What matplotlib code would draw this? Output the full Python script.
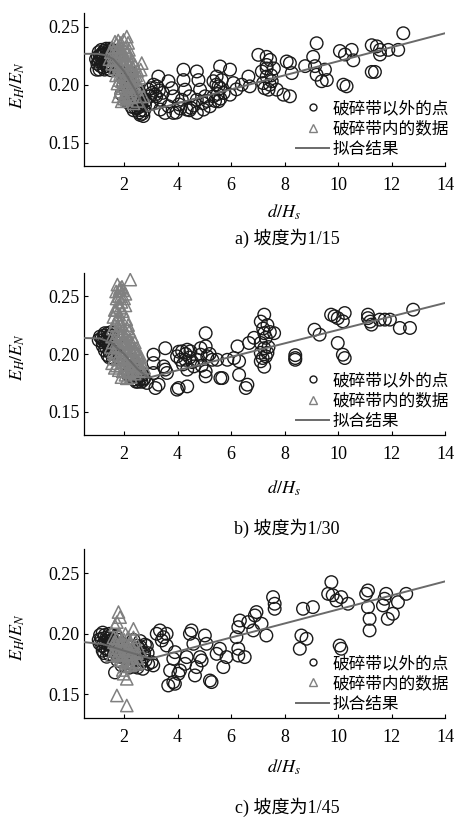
import matplotlib
matplotlib.use("Agg")
import matplotlib.pyplot as plt
from matplotlib.lines import Line2D

plt.rcParams["font.family"] = ["Liberation Serif", "Noto Sans CJK SC"]
plt.rcParams["mathtext.fontset"] = "stix"

# Panel a) slope 1/15: points outside the breaking zone (circles)
a_out_x = [12.44, 12.25, 11.88, 11.57, 11.45, 11.26, 11.57, 11.26, 11.38, 10.51, 10.57, 10.07, 10.26,
           10.20, 10.32, 9.20, 9.07, 9.14, 9.20, 9.51, 9.58, 9.39, 8.77, 8.20, 8.27, 8.08, 8.20, 7.96,
           7.71, 7.46, 7.33, 7.02, 7.33, 7.15, 7.33, 7.20, 7.40, 7.52, 7.33, 6.70, 6.65, 5.96, 6.09, 5.96,
           5.59, 5.46, 5.65, 5.34, 5.53, 5.72, 5.34, 5.53, 5.21, 4.84, 4.72, 4.78, 4.72, 4.72, 4.97, 5.03,
           4.22, 4.22, 4.28, 4.16, 4.34, 3.84, 3.66, 3.78, 3.84, 3.66, 3.28, 3.22, 3.16, 3.35, 3.03, 3.35,
           3.53, 2.60, 2.72, 2.60, 2.47, 2.91, 2.97,
           3.00, 3.10, 3.30, 3.45, 3.20, 3.05, 5.45, 5.60, 5.50, 5.60, 5.40, 4.95, 5.10, 4.60, 4.45, 4.50,
           4.05, 3.95, 4.10, 4.45, 7.60, 7.45, 7.25, 7.50, 6.20, 6.40,
           0.98, 1.02, 1.10, 1.15, 1.23, 1.28, 1.35, 1.40, 1.48, 1.45, 1.55, 1.60, 1.30, 1.20, 1.65, 1.70,
           1.58, 1.38, 1.12, 1.50,
           1.00, 1.05, 1.08, 1.15, 1.18, 1.22, 1.25, 1.32, 1.33, 1.42, 1.45, 1.50, 1.52, 1.62, 1.68, 1.72,
           1.40, 1.27, 1.18, 1.36, 1.56, 1.10, 0.95, 1.05,
           2.00, 2.10, 2.20, 2.30, 2.15, 2.40, 2.50, 2.35, 2.55, 2.20, 2.05, 2.65, 2.75, 1.90, 2.45, 2.30,
           2.60, 2.80, 1.95, 2.25,
           2.05, 2.12, 2.25, 2.38, 2.48, 2.58, 2.68, 2.42, 2.32, 2.18, 2.28, 2.52, 2.62, 2.78, 2.70, 1.98,
           2.08, 2.15]
a_out_y = [0.2443, 0.2300, 0.2300, 0.2300, 0.2330, 0.2340, 0.2260, 0.2110, 0.2110, 0.2300, 0.2210, 0.2290,
           0.2260, 0.2000, 0.1986, 0.2357, 0.2240, 0.2160, 0.2086, 0.2130, 0.2040, 0.2030, 0.2160, 0.2186,
           0.2100, 0.2200, 0.1900, 0.1914, 0.1957, 0.2214, 0.2240, 0.2257, 0.2170, 0.2114, 0.2070, 0.2014,
           0.1957, 0.2030, 0.2140, 0.1986, 0.2070, 0.2130, 0.2014, 0.1914, 0.2157, 0.2070, 0.2040, 0.2030,
           0.1986, 0.1929, 0.1900, 0.1857, 0.1814, 0.1957, 0.2114, 0.2040, 0.1870, 0.1757, 0.1786, 0.1900,
           0.2129, 0.2040, 0.1957, 0.1870, 0.1786, 0.1757, 0.1814, 0.1970, 0.1900, 0.2030, 0.2070, 0.1986,
           0.1914, 0.1870, 0.1843, 0.1786, 0.1757, 0.1740, 0.1730, 0.1814, 0.1870, 0.1957, 0.1900,
           0.1970, 0.2000, 0.1950, 0.1930, 0.1900, 0.1930, 0.2000, 0.1970, 0.1920, 0.1880, 0.1860, 0.1840,
           0.1860, 0.1820, 0.1900, 0.1800, 0.1830, 0.1760, 0.1795, 0.1780, 0.2140, 0.2000, 0.1970, 0.2080,
           0.1960, 0.2000,
           0.2129, 0.2240, 0.2214, 0.2257, 0.2257, 0.2220, 0.2270, 0.2230, 0.2300, 0.2190, 0.2260, 0.2210,
           0.2180, 0.2190, 0.2290, 0.2240, 0.2160, 0.2140, 0.2160, 0.2125,
           0.2180, 0.2280, 0.2130, 0.2300, 0.2220, 0.2150, 0.2290, 0.2240, 0.2310, 0.2270, 0.2310, 0.2220,
           0.2170, 0.2260, 0.2190, 0.2130, 0.2190, 0.2130, 0.2270, 0.2160, 0.2300, 0.2250, 0.2220, 0.2200,
           0.2050, 0.2000, 0.1960, 0.1920, 0.1900, 0.1850, 0.1800, 0.1780, 0.1760, 0.1840, 0.1950, 0.1830,
           0.1780, 0.1920, 0.1970, 0.2050, 0.1925, 0.1860, 0.2100, 0.2100,
           0.2030, 0.1850, 0.2000, 0.1900, 0.1930, 0.1860, 0.1750, 0.1800, 0.1860, 0.1940, 0.1810, 0.1880,
           0.1780, 0.1820, 0.1880, 0.2000, 0.2080, 0.2030]

# Panel a) points inside the breaking zone (triangles)
a_in_x = [2.10, 1.98, 2.15, 1.66, 1.80, 1.75, 1.90, 2.05, 1.60, 1.70, 1.85, 1.95, 2.10, 2.20, 2.30, 2.66,
          2.40, 1.55, 1.65, 1.80, 1.95, 2.05, 2.15, 2.25, 2.35, 2.50, 1.70, 1.85, 2.00, 2.15, 2.30, 2.45,
          2.55, 1.75, 1.95, 2.10, 2.25, 2.40, 2.60, 2.72, 1.91, 2.10, 2.00, 2.20, 1.85, 1.50, 1.45, 2.35,
          2.50,
          1.55, 1.62, 1.72, 1.78, 1.88, 1.93, 2.00, 2.08, 2.18, 2.25, 2.32, 2.45, 1.58, 1.68, 1.78, 1.90,
          2.02, 2.12, 2.20, 1.82, 1.92, 2.05, 2.18, 2.35, 2.48, 1.88, 2.00, 2.30, 2.12, 1.78, 2.57, 2.62,
          2.28]
a_in_y = [0.2414, 0.2386, 0.2360, 0.2370, 0.2330, 0.2290, 0.2310, 0.2320, 0.2250, 0.2220, 0.2260, 0.2240,
          0.2270, 0.2250, 0.2210, 0.2186, 0.2170, 0.2180, 0.2140, 0.2160, 0.2170, 0.2140, 0.2190, 0.2130,
          0.2090, 0.2120, 0.2080, 0.2090, 0.2070, 0.2050, 0.2010, 0.2040, 0.1990, 0.2010, 0.1990, 0.1960,
          0.1940, 0.1960, 0.1900, 0.1900, 0.1857, 0.1870, 0.1910, 0.1890, 0.1940, 0.2280, 0.2220, 0.1840,
          0.1860,
          0.2320, 0.2290, 0.2350, 0.2380, 0.2360, 0.2280, 0.2260, 0.2220, 0.2300, 0.2180, 0.2150, 0.2080,
          0.2210, 0.2180, 0.2120, 0.2130, 0.2190, 0.2110, 0.2070, 0.2040, 0.2030, 0.2010, 0.1990, 0.2050,
          0.1960, 0.1970, 0.1880, 0.1900, 0.1920, 0.1900, 0.2060, 0.2130, 0.1980]

# Panel a) fitted curve
a_fit_x = [0.5, 1.0, 1.3, 1.6, 2.0, 2.4, 2.85, 14.0]
a_fit_y = [0.2266, 0.2266, 0.2255, 0.2220, 0.2115, 0.1960, 0.1770, 0.2443]

# Panel b) slope 1/30
b_out_x = [12.81, 12.69, 12.31, 11.94, 11.75, 11.56, 11.12, 11.25, 11.12, 11.20, 10.25, 10.18, 9.87, 9.74,
           9.99, 9.99, 10.18, 10.25, 9.12, 9.31, 8.40, 8.40, 8.40, 7.24, 7.11, 7.36, 7.61, 7.24, 7.30, 7.11,
           7.24, 7.11, 7.36, 7.18, 7.30, 7.11, 7.24, 6.86, 6.67, 6.61, 6.55, 6.30, 6.24, 6.11, 6.30, 5.86,
           5.67, 5.60, 5.48, 5.05, 5.05, 4.86, 4.86, 5.11, 5.05, 5.05, 5.30, 4.73, 4.48, 4.36, 4.17, 4.11,
           4.29, 4.36, 4.61, 3.98, 4.04, 4.36, 3.98, 3.54, 3.54, 3.60, 3.48, 3.10, 3.10, 3.10, 3.29, 3.17,
           2.85, 2.73,
           4.30, 4.45, 4.20, 4.55, 4.90, 5.20, 4.05, 7.40, 7.20, 7.45,
           1.05, 1.16, 1.25, 1.35, 1.47, 1.60, 1.50, 1.40, 1.30, 1.20, 1.55, 1.65, 1.45, 1.70, 1.80,
           1.10, 1.22, 1.28, 1.32, 1.38, 1.42, 1.52, 1.55, 1.62, 1.68, 1.45, 1.38, 1.58, 1.75, 1.28, 1.48,
           1.20,
           2.35, 2.40, 2.50, 2.60, 2.45, 2.30, 2.20, 2.70, 2.55, 2.10,
           2.15, 2.25, 2.38, 2.48, 2.58, 2.65, 2.75, 2.32, 2.42, 2.52, 2.28, 2.62]
b_out_y = [0.2383, 0.2225, 0.2225, 0.2297, 0.2297, 0.2297, 0.2340, 0.2254, 0.2310, 0.2280, 0.2354, 0.2282,
           0.2326, 0.2340, 0.2310, 0.2095, 0.1994, 0.1965, 0.2210, 0.2167, 0.1990, 0.1965, 0.1950, 0.2340,
           0.2280, 0.2250, 0.2180, 0.2180, 0.2140, 0.2095, 0.2050, 0.2010, 0.2010, 0.1965, 0.1980, 0.1937,
           0.1890, 0.2140, 0.2095, 0.1735, 0.1706, 0.1820, 0.2066, 0.1965, 0.1937, 0.1950, 0.1792, 0.1792,
           0.1950, 0.2180, 0.2066, 0.2050, 0.1994, 0.1980, 0.1850, 0.1807, 0.1950, 0.1950, 0.2023, 0.2037,
           0.2023, 0.1950, 0.1950, 0.1865, 0.1893, 0.1980, 0.1706, 0.1720, 0.1692, 0.2050, 0.1865, 0.1836,
           0.1893, 0.1994, 0.1922, 0.1836, 0.1735, 0.1706, 0.1750, 0.1778,
           0.2000, 0.1970, 0.1910, 0.1930, 0.1900, 0.2000, 0.2020, 0.2060, 0.2220, 0.2190,
           0.2120, 0.2138, 0.2160, 0.2095, 0.2052, 0.2182, 0.2140, 0.2180, 0.2110, 0.2070, 0.2000, 0.2050,
           0.1970, 0.2100, 0.2000,
           0.2150, 0.2120, 0.2180, 0.2060, 0.2140, 0.2100, 0.2190, 0.2080, 0.2120, 0.2010, 0.2020, 0.1990,
           0.1960, 0.2050, 0.2030, 0.2160, 0.2100,
           0.1830, 0.1880, 0.1800, 0.1780, 0.1760, 0.1930, 0.1850, 0.1820, 0.1860, 0.1900,
           0.1820, 0.1880, 0.1780, 0.1840, 0.1810, 0.1760, 0.1790, 0.1800, 0.1910, 0.1760, 0.1950, 0.1840]

b_in_x = [2.23, 1.75, 1.85, 1.70, 1.95, 2.05, 1.80, 2.00, 1.90, 2.05, 1.70, 1.85, 1.95, 1.60, 1.75, 1.85,
          1.65, 2.15, 2.20, 1.95, 2.10, 2.30, 1.80, 1.55, 2.40, 2.00, 2.25, 1.70, 1.85, 2.10, 2.45, 2.55,
          2.35, 1.60, 1.75, 1.95, 2.15, 2.30, 2.50, 2.65, 2.75, 1.65, 1.80, 2.00, 2.20, 2.40, 2.60, 1.90,
          2.10, 1.55, 1.50,
          1.72, 1.82, 1.88, 1.92, 1.78, 1.65, 1.82, 1.90, 2.08, 2.12, 2.02, 2.18, 2.28, 2.38, 2.48, 2.58,
          2.68, 1.72, 1.82, 1.90, 2.02, 2.12, 2.22, 2.32, 2.45, 1.62, 1.58, 1.68, 1.92, 2.10,
          1.58, 1.68, 1.78, 1.88, 1.98, 2.08, 2.18, 2.28, 2.38, 2.48, 1.65, 1.75, 1.85, 1.95, 2.05, 2.15,
          2.25, 2.35, 2.55, 2.62]
b_in_y = [0.2643, 0.2600, 0.2570, 0.2540, 0.2550, 0.2520, 0.2500, 0.2480, 0.2450, 0.2420, 0.2380, 0.2400,
          0.2370, 0.2320, 0.2300, 0.2280, 0.2250, 0.2250, 0.2200, 0.2200, 0.2170, 0.2150, 0.2180, 0.2150,
          0.2100, 0.2120, 0.2080, 0.2100, 0.2060, 0.2040, 0.2050, 0.1990, 0.2000, 0.2020, 0.1960, 0.1980,
          0.1960, 0.1920, 0.1900, 0.1920, 0.1880, 0.1880, 0.1860, 0.1880, 0.1840, 0.1830, 0.1850, 0.1800,
          0.1790, 0.1920, 0.2060,
          0.2480, 0.2550, 0.2500, 0.2580, 0.2420, 0.2380, 0.2340, 0.2260, 0.2300, 0.2220, 0.2150, 0.2110,
          0.2030, 0.1960, 0.1940, 0.1880, 0.1860, 0.1900, 0.1950, 0.2030, 0.1930, 0.1860, 0.1970, 0.1860,
          0.1850, 0.1960, 0.2100, 0.2160, 0.2100, 0.2000,
          0.2220, 0.2280, 0.2220, 0.2150, 0.2060, 0.2100, 0.2030, 0.2100, 0.2040, 0.2000, 0.2000, 0.2070,
          0.1900, 0.1850, 0.1820, 0.1910, 0.1800, 0.1890, 0.1930, 0.1980]

b_fit_x = [0.5, 1.1, 1.5, 2.0, 2.5, 2.9, 14.0]
b_fit_y = [0.2138, 0.2135, 0.2100, 0.2000, 0.1870, 0.1795, 0.2441]

# Panel c) slope 1/45
c_out_x = [12.55, 12.24, 12.05, 11.80, 11.74, 11.68, 11.86, 11.12, 11.05, 11.12, 11.18, 11.18, 10.37, 10.12,
           9.94, 9.75, 9.63, 9.80, 10.06, 10.12, 9.06, 8.69, 8.63, 8.82, 8.57, 7.57, 7.63, 7.63, 7.32, 7.14,
           6.95, 6.89, 6.83, 6.64, 6.33, 6.27, 6.20, 6.27, 6.51, 6.27, 5.83, 5.71, 5.58, 5.46, 5.21, 5.27,
           5.02, 5.08, 4.84, 4.90, 4.71, 4.65, 4.52, 4.46, 4.59, 4.34, 4.28, 4.09, 3.84, 3.90, 3.65, 3.72,
           3.84, 3.90, 3.59, 3.47, 3.34, 3.22, 3.59, 3.41, 4.03, 3.09, 3.03,
           1.05, 1.10, 1.20, 1.25, 1.30, 1.35, 1.45, 1.40, 1.55, 1.50, 1.65, 1.70, 1.60, 1.20, 1.75, 1.80,
           1.90, 2.00, 2.10, 2.20, 2.30, 2.40, 2.50, 2.55, 2.65, 2.75, 2.85, 2.90, 2.70, 2.20, 1.90, 1.66,
           2.35, 2.60, 1.35,
           1.08, 1.15, 1.18, 1.28, 1.32, 1.38, 1.42, 1.48, 1.52, 1.58, 1.62, 1.68, 1.72, 1.78, 1.85, 1.25,
           1.45, 1.95, 2.05, 2.15, 2.25, 2.35, 2.45, 2.55, 2.62, 2.70, 2.80, 2.88, 2.78, 2.48, 2.15, 2.38,
           2.60]
c_out_y = [0.2331, 0.2262, 0.2166, 0.2331, 0.2290, 0.2235, 0.2124, 0.2359, 0.2331, 0.2221, 0.2124, 0.2028,
           0.2249, 0.2304, 0.2276, 0.2428, 0.2331, 0.2320, 0.1903, 0.1876, 0.2221, 0.2207, 0.1986, 0.1959,
           0.1876, 0.2304, 0.2249, 0.2207, 0.1986, 0.2083, 0.2180, 0.2152, 0.2028, 0.2097, 0.2110, 0.2055,
           0.1972, 0.1876, 0.1807, 0.1820, 0.1807, 0.1724, 0.1876, 0.1834, 0.1613, 0.1600, 0.1986, 0.1917,
           0.1807, 0.1779, 0.1724, 0.1655, 0.2028, 0.2000, 0.1917, 0.1807, 0.1751, 0.1696, 0.1600, 0.1586,
           0.1572, 0.1696, 0.1793, 0.1848, 0.1903, 0.1972, 0.2028, 0.2000, 0.2000, 0.1945, 0.1669, 0.1738,
           0.1765,
           0.1950, 0.1990, 0.2010, 0.1930, 0.1880, 0.1970, 0.2000, 0.1910, 0.1950, 0.1860, 0.1900, 0.1980,
           0.1820, 0.1860, 0.1780, 0.1860, 0.1920, 0.1850, 0.1800, 0.1890, 0.1760, 0.1830, 0.1720, 0.1880,
           0.1780, 0.1840, 0.1900, 0.1750, 0.1710, 0.1720, 0.1740, 0.1680, 0.1950, 0.1940, 0.1810,
           0.1920, 0.1960, 0.1900, 0.1990, 0.1940, 0.1870, 0.1960, 0.1920, 0.1990, 0.1890, 0.1940, 0.1850,
           0.1910, 0.1950, 0.1810, 0.1840, 0.1830, 0.1880, 0.1810, 0.1850, 0.1800, 0.1870, 0.1790, 0.1820,
           0.1890, 0.1830, 0.1780, 0.1840, 0.1910, 0.1900, 0.1760, 0.1730, 0.1750]

c_in_x = [1.79, 1.85, 1.73, 2.35, 1.66, 1.73, 2.10, 2.10, 1.98, 2.22,
          1.60, 1.70, 1.80, 1.90, 2.00, 2.10, 2.20, 2.30, 2.40, 1.75, 1.85, 1.95, 2.05, 2.15, 2.25, 2.50,
          2.60, 1.65, 1.55, 2.35, 2.45, 1.95, 2.05, 2.15,
          1.62, 1.72, 1.78, 1.88, 1.95, 2.02, 2.12, 2.18, 2.28, 2.38, 2.48, 2.55, 1.82, 1.92, 2.02, 2.22,
          2.32, 1.70]
c_in_y = [0.2180, 0.2138, 0.2097, 0.2041, 0.2069, 0.1489, 0.1406, 0.1627, 0.1669, 0.1738,
          0.1970, 0.1920, 0.1990, 0.1900, 0.1950, 0.1860, 0.1920, 0.1840, 0.1900, 0.1830, 0.1780, 0.1820,
          0.1760, 0.1790, 0.1740, 0.1800, 0.1860, 0.1880, 0.1820, 0.1970, 0.1750, 0.1700, 0.2000, 0.1970,
          0.1930, 0.1960, 0.1880, 0.1940, 0.1860, 0.1910, 0.1830, 0.1880, 0.1810, 0.1860, 0.1840, 0.1760,
          0.1840, 0.1780, 0.1730, 0.1860, 0.1770, 0.1860]

c_fit_x = [0.5, 1.2, 2.0, 3.0, 14.0]
c_fit_y = [0.1931, 0.1915, 0.1860, 0.1795, 0.2434]

x_ticks = [2, 4, 6, 8, 10, 12, 14]
y_ticks = [0.15, 0.20, 0.25]
legend_labels = ["破碎带以外的点", "破碎带内的数据", "拟合结果"]
captions = ["a) 坡度为1/15", "b) 坡度为1/30", "c) 坡度为1/45"]

CIRCLE_COLOR = "#1a1a1a"
TRIANGLE_COLOR = "#808080"
FIT_COLOR = "#6a6a6a"

# axes rectangles in figure pixels: left, top, right, bottom (figure is 467 x 817)
W, H = 467.0, 817.0
panel_boxes = [(84, 12.7, 445, 166), (84, 273, 445, 435), (84, 549.3, 445, 718.3)]
panel_ylims = [(0.13, 0.262), (0.13, 0.27), (0.13, 0.27)]
legend_tops = [100, 372, 655]      # pixel y of legend top
xlabel_y = [212, 488, 767]
ylabel_y = [85, 357, 637]
caption_y = [238, 528, 807]

panels = [
    (a_out_x, a_out_y, a_in_x, a_in_y, a_fit_x, a_fit_y),
    (b_out_x, b_out_y, b_in_x, b_in_y, b_fit_x, b_fit_y),
    (c_out_x, c_out_y, c_in_x, c_in_y, c_fit_x, c_fit_y),
]

fig = plt.figure(figsize=(W / 100, H / 100), dpi=100)

for i, (ox, oy, ix, iy, fx, fy) in enumerate(panels):
    left, top, right, bottom = panel_boxes[i]
    ax = fig.add_axes([left / W, 1 - bottom / H, (right - left) / W, (bottom - top) / H])
    ax.scatter(ox, oy, s=82, facecolors="none", edgecolors=CIRCLE_COLOR, linewidths=1.0, zorder=2)
    ax.scatter(ix, iy, s=78, marker="^", facecolors="none", edgecolors=TRIANGLE_COLOR, linewidths=1.1, zorder=3)
    ax.plot(fx, fy, color=FIT_COLOR, lw=1.4, zorder=4)

    ax.set_xlim(0.5, 14)
    ax.set_ylim(*panel_ylims[i])
    ax.set_xticks(x_ticks)
    ax.set_yticks(y_ticks)
    ax.set_yticklabels([f"{t:.2f}" for t in y_ticks])
    ax.tick_params(direction="in", length=3, width=0.8, labelsize=13)
    ax.tick_params(axis="x", pad=8)
    ax.tick_params(axis="y", pad=3)
    for side in ["top", "right"]:
        ax.spines[side].set_visible(False)
    for side in ["left", "bottom"]:
        ax.spines[side].set_linewidth(0.9)

    handles = [
        Line2D([], [], ls="none", marker="o", ms=5, mfc="none", mec=CIRCLE_COLOR, mew=1.0),
        Line2D([], [], ls="none", marker="^", ms=6, mfc="none", mec=TRIANGLE_COLOR, mew=1.0),
        Line2D([], [], color=FIT_COLOR, lw=1.4),
    ]
    ax.legend(handles, legend_labels, loc="upper left",
              bbox_to_anchor=(296 / W, 1 - legend_tops[i] / H), bbox_transform=fig.transFigure,
              frameon=False, borderpad=0, borderaxespad=0, handlelength=2.0, handletextpad=0.2,
              labelspacing=0.2, prop={"family": "Noto Sans CJK SC", "size": 12})

    fig.text(284 / W, 1 - xlabel_y[i] / H, "$d/H_s$", ha="center", va="center", fontsize=13)
    fig.text(18 / W, 1 - ylabel_y[i] / H, "$E_H/E_N$", ha="center", va="center", rotation=90, fontsize=13)
    fig.text(287 / W, 1 - caption_y[i] / H, captions[i], ha="center", va="center", fontsize=13)

fig.savefig("out.png", dpi=100)
